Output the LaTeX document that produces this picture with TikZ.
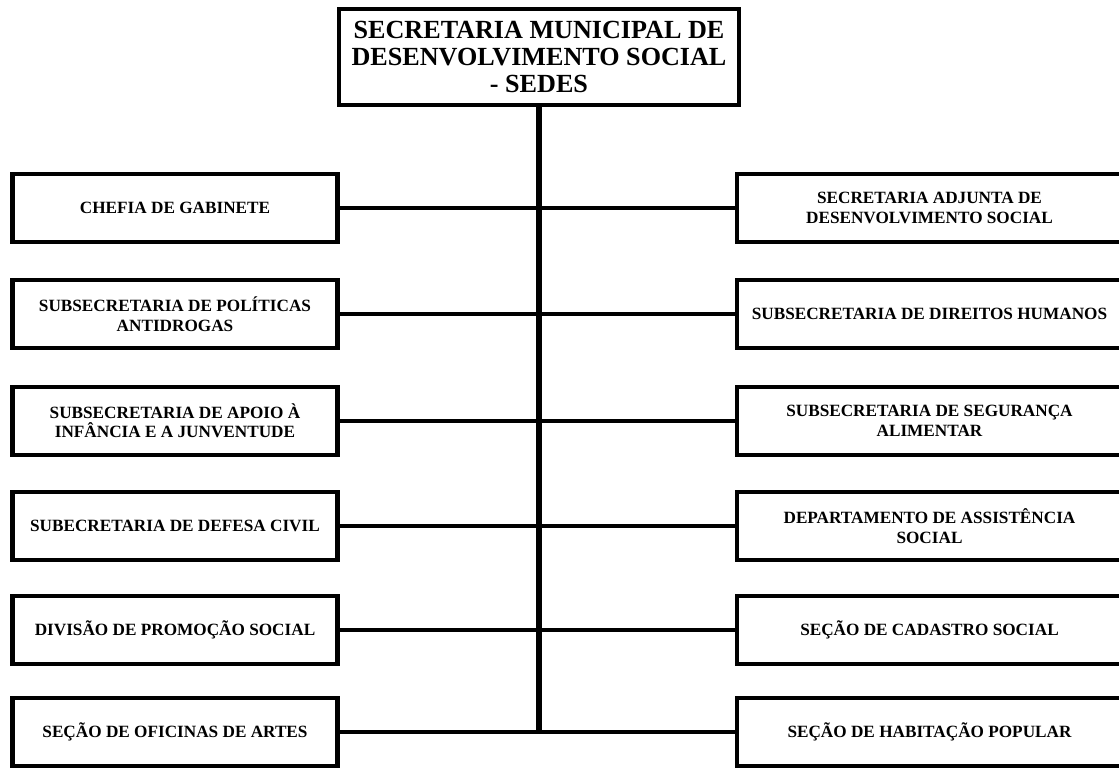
\documentclass[tikz,border=0pt]{standalone}
\usepackage{fontspec}
\setmainfont{Liberation Serif}[BoldFont={Liberation Serif Bold}]
\begin{document}
\begin{tikzpicture}[x=0.75pt,y=-0.75pt,
  box/.style={draw, line width=3.1pt, rectangle, align=center, inner sep=0pt,
    font=\bfseries\fontsize{12.9}{14.6}\selectfont},
  lbox/.style={box, minimum width=243.75pt, minimum height=51pt},
  rbox/.style={box, minimum width=288.75pt, minimum height=51pt},
  topbox/.style={box, minimum width=300pt, minimum height=72pt,
    font=\bfseries\fontsize{19.6}{20.6}\selectfont},
  conn/.style={line width=3.6pt},
  trunk/.style={line width=4.2pt}]
\useasboundingbox (0,0) rectangle (1119,770);

\node[topbox] (top) at (539,57) {SECRETARIA MUNICIPAL DE\\DESENVOLVIMENTO SOCIAL\\- SEDES};

\node[lbox] (l1) at (175,208) {CHEFIA DE GABINETE};
\node[lbox] (l2) at (175,314) {SUBSECRETARIA DE POLÍTICAS\\ANTIDROGAS};
\node[lbox] (l3) at (175,421) {SUBSECRETARIA DE APOIO À\\INFÂNCIA E A JUNVENTUDE};
\node[lbox] (l4) at (175,526) {SUBECRETARIA DE DEFESA CIVIL};
\node[lbox] (l5) at (175,630) {DIVISÃO DE PROMOÇÃO SOCIAL};
\node[lbox] (l6) at (175,732) {SEÇÃO DE OFICINAS DE ARTES};

\node[rbox] (r1) at (929.5,208) {SECRETARIA ADJUNTA DE\\DESENVOLVIMENTO SOCIAL};
\node[rbox] (r2) at (929.5,314) {SUBSECRETARIA DE DIREITOS HUMANOS};
\node[rbox] (r3) at (929.5,421) {SUBSECRETARIA DE SEGURANÇA\\ALIMENTAR};
\node[rbox] (r4) at (929.5,526) {DEPARTAMENTO DE ASSISTÊNCIA\\SOCIAL};
\node[rbox] (r5) at (929.5,630) {SEÇÃO DE CADASTRO SOCIAL};
\node[rbox] (r6) at (929.5,732) {SEÇÃO DE HABITAÇÃO POPULAR};

\draw[trunk] (top.south) -- (top.south |- l6.east);
\foreach \i in {1,...,6} {
  \draw[conn] (l\i.east) -- (r\i.west);
}
\end{tikzpicture}
\end{document}
